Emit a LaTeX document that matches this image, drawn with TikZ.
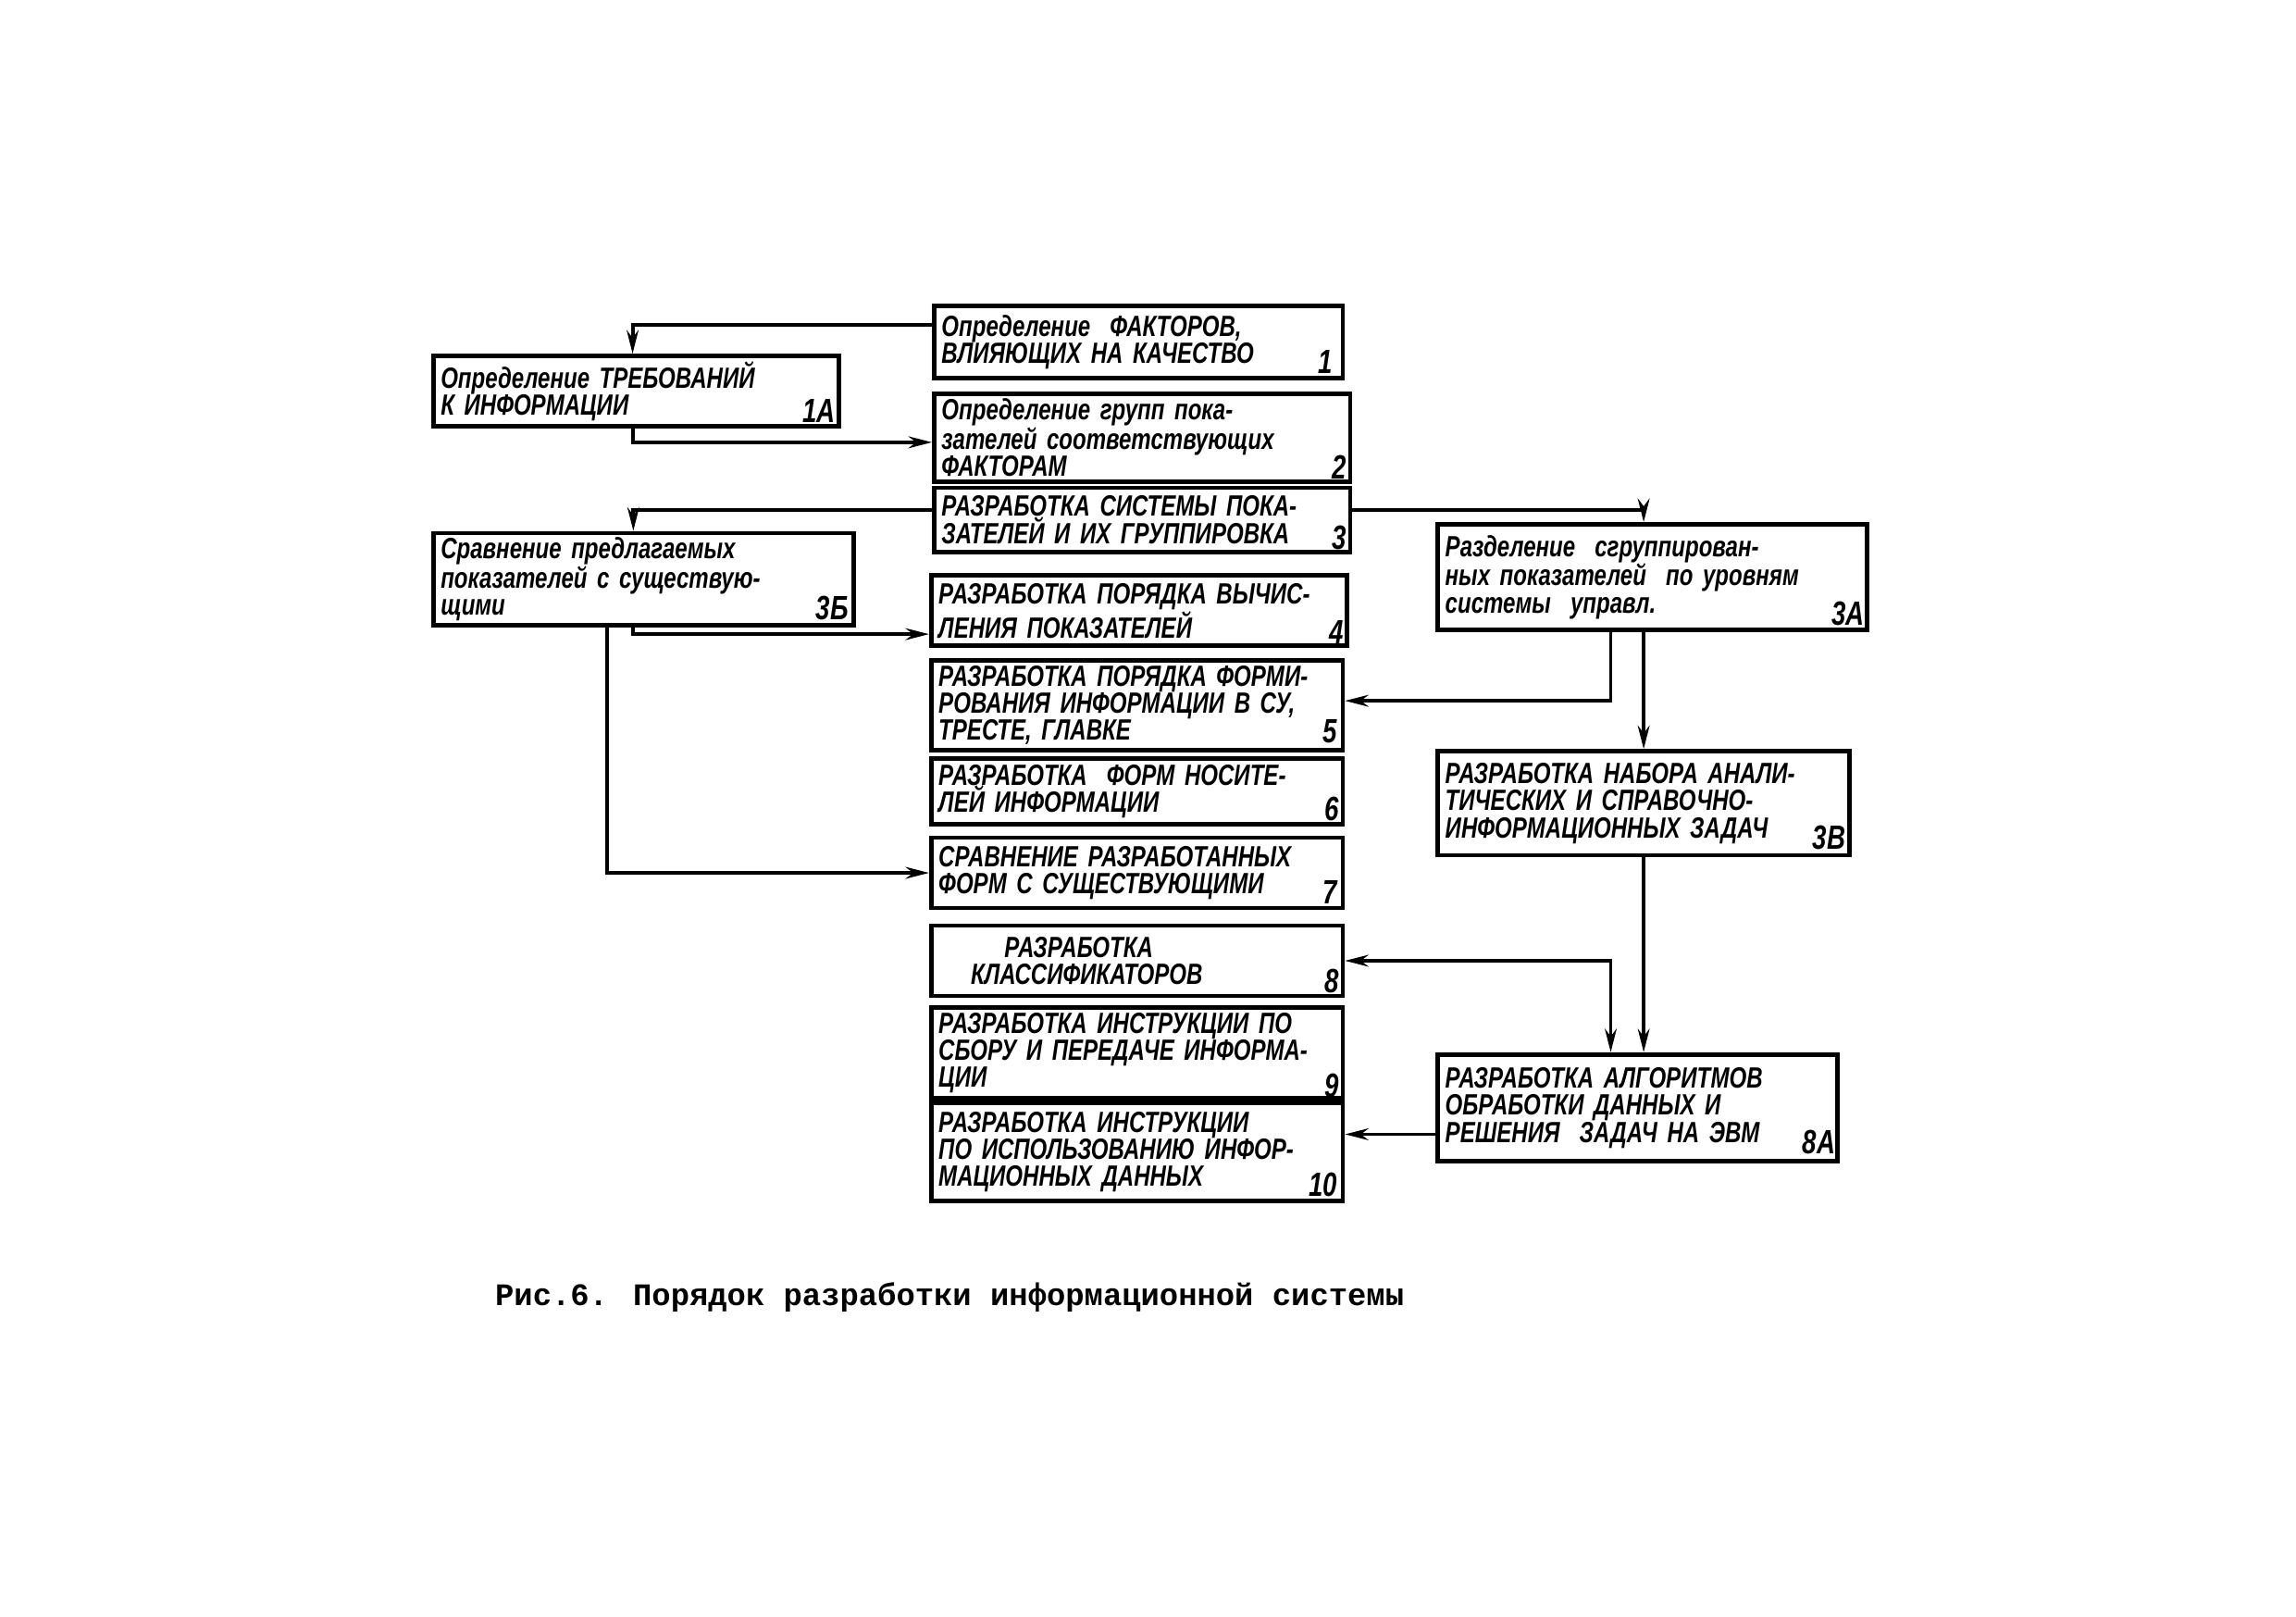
\documentclass[tikz,border=0pt]{standalone}
\usepackage{fontspec}
\usetikzlibrary{arrows.meta}
\newfontfamily\handfont{Liberation Sans}[FakeStretch=0.76]
\newfontfamily\typefont{Liberation Mono}
\newcommand\pbox[7]{\node[box, minimum width=#4pt, minimum height=#5pt, text width=#6pt] (#1) at (#2,#3) {#7};}
\tikzset{
  box/.style={draw, line width=3pt, inner ysep=0pt, inner xsep=5pt, align=left,
    font=\handfont\bfseries\itshape\fontsize{20}{18.5}\selectfont},
  num/.style={inner sep=0pt, anchor=south east, font=\handfont\bfseries\itshape\fontsize{23}{23}\selectfont},
  conn/.style={line width=2.5pt},
  arr/.style={conn, -{Stealth[length=16pt,width=8pt]}},
  darr/.style={conn, {Stealth[length=16pt,width=8pt]}-{Stealth[length=16pt,width=8pt]}}
}
\begin{document}
\begin{tikzpicture}[x=1pt,y=-1pt]
\fill[white] (0,0) rectangle (1568,1104);
\useasboundingbox (0,0) rectangle (1568,1104);
% boxes
\pbox{n1}{777.5}{233.5}{279}{49}{269}{Определение\ \ ФАКТОРОВ,\\ВЛИЯЮЩИХ НА КАЧЕСТВО}
\pbox{n1A}{434.5}{267}{277}{48}{267}{Определение ТРЕБОВАНИЙ\\К ИНФОРМАЦИИ}
\pbox{n2}{780}{299}{284}{60}{274}{Определение групп пока-\\зателей соответствующих\\ФАКТОРАМ}
\pbox{n3}{780}{355}{284}{44}{274}{РАЗРАБОТКА СИСТЕМЫ ПОКА-\\ЗАТЕЛЕЙ И ИХ ГРУППИРОВКА}
\pbox{n3B}{439.5}{395.5}{287}{63}{277}{Сравнение предлагаемых\\показателей с существую-\\щими}
\pbox{n3A}{1128.5}{394}{293}{72}{283}{Разделение\ \ сгруппирован-\\ных показателей\ \ по уровням\\системы\ \ управл.}
\pbox{n4}{778}{417}{284}{48}{274}{РАЗРАБОТКА ПОРЯДКА ВЫЧИС-\\ЛЕНИЯ ПОКАЗАТЕЛЕЙ}
\pbox{n5}{776.5}{481.5}{281}{61}{271}{РАЗРАБОТКА ПОРЯДКА ФОРМИ-\\РОВАНИЯ ИНФОРМАЦИИ В СУ,\\ТРЕСТЕ, ГЛАВКЕ}
\pbox{n6}{776.5}{540.5}{281}{45}{271}{РАЗРАБОТКА\ \ ФОРМ НОСИТЕ-\\ЛЕЙ ИНФОРМАЦИИ}
\pbox{n7}{776.5}{596}{281}{48}{271}{СРАВНЕНИЕ РАЗРАБОТАННЫХ\\ФОРМ С СУЩЕСТВУЮЩИМИ}
\pbox{n8}{776.5}{656}{281}{48}{271}{\hspace*{45pt}РАЗРАБОТКА\\\hspace*{22pt}КЛАССИФИКАТОРОВ}
\pbox{n9}{776.5}{719}{281}{62}{271}{РАЗРАБОТКА ИНСТРУКЦИИ ПО\\СБОРУ И ПЕРЕДАЧЕ ИНФОРМА-\\ЦИИ}
\pbox{n10}{776.5}{786.5}{281}{67}{271}{РАЗРАБОТКА ИНСТРУКЦИИ\\ПО ИСПОЛЬЗОВАНИЮ ИНФОР-\\МАЦИОННЫХ ДАННЫХ}
\pbox{n3V}{1122.5}{548.5}{281}{71}{271}{РАЗРАБОТКА НАБОРА АНАЛИ-\\ТИЧЕСКИХ И СПРАВОЧНО-\\ИНФОРМАЦИОННЫХ ЗАДАЧ}
\pbox{n8A}{1118.5}{756.5}{273}{73}{263}{РАЗРАБОТКА АЛГОРИТМОВ\\ОБРАБОТКИ ДАННЫХ И\\РЕШЕНИЯ\ \ ЗАДАЧ НА ЭВМ}
% numbers
\node[num] (l1) at ([xshift=-8pt,yshift=4pt]n1.south east) {1};
\node[num] (l1A) at ([xshift=-4pt,yshift=4pt]n1A.south east) {1А};
\node[num] (l2) at ([xshift=-4pt,yshift=3pt]n2.south east) {2};
\node[num] (l3) at ([xshift=-4pt,yshift=3pt]n3.south east) {3};
\node[num] (l3B) at ([xshift=-5pt,yshift=5pt]n3B.south east) {3Б};
\node[num] (l3A) at ([xshift=-3pt,yshift=4pt]n3A.south east) {3А};
\node[num] (l4) at ([xshift=-4pt,yshift=3pt]n4.south east) {4};
\node[num] (l5) at ([xshift=-5pt,yshift=6pt]n5.south east) {5};
\node[num] (l6) at ([xshift=-4pt,yshift=4pt]n6.south east) {6};
\node[num] (l7) at ([xshift=-5pt,yshift=4pt]n7.south east) {7};
\node[num] (l8) at ([xshift=-4pt,yshift=3pt]n8.south east) {8};
\node[num] (l9) at ([xshift=-4pt,yshift=2pt]n9.south east) {9};
\node[num] (l10) at ([xshift=-5pt,yshift=4pt]n10.south east) {10};
\node[num] (l3V) at ([xshift=-4pt,yshift=5pt]n3V.south east) {3В};
\node[num] (l8A) at ([xshift=-3pt,yshift=6pt]n8A.south east) {8А};
% connectors
\draw[arr] ([yshift=11.5pt]n1.west) -| ([xshift=-2.5pt]n1A.north);
\draw[arr] ([xshift=-2.5pt]n1A.south) |- ([yshift=-3pt]n2.west);
\draw[arr] ([yshift=7pt]n3.west) -| ([xshift=-7pt]n3B.north);
\draw[arr] ([yshift=7pt]n3.east) -| ([xshift=-6pt]n3A.north);
\draw[arr] ([xshift=-7pt]n3B.south) |- ([yshift=-16pt]n4.west);
\draw[arr] ([xshift=-25pt]n3B.south) |- (n7.west);
\draw[arr] ([xshift=-28.5pt]n3A.south) |- ([yshift=3pt]n5.east);
\draw[arr] (n3V.north |- n3A.south) -- (n3V.north);
\draw[arr] (n3V.south) -- (n3V.south |- n8A.north);
\draw[darr] (n8.east) -| ([xshift=-18.5pt]n8A.north);
\draw[arr] ([yshift=-18pt]n8A.west) -- ([yshift=-18pt]n8A.west -| n10.east);
% caption
\node[anchor=west, inner sep=0pt, font=\typefont\bfseries\fontsize{21.4}{24}\selectfont] (cap) at (338,886) {Рис.6. Порядок разработки информационной системы};
\end{tikzpicture}
\end{document}
